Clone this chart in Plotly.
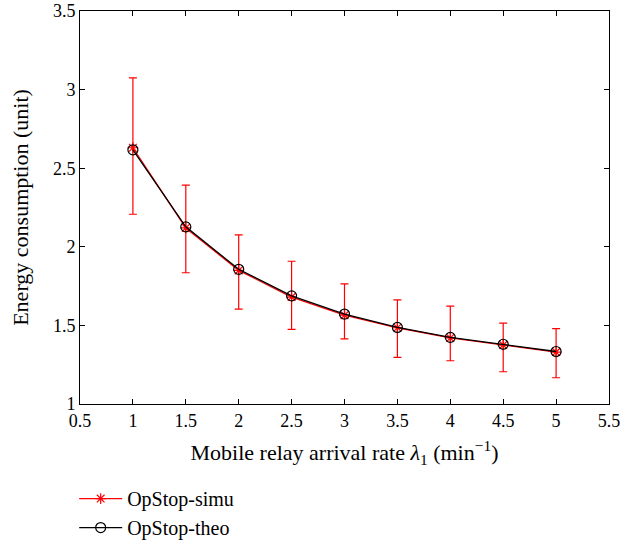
import plotly.graph_objects as go

rate = [1, 1.5, 2, 2.5, 3, 3.5, 4, 4.5, 5]
simu = [2.63, 2.12, 1.85, 1.68, 1.565, 1.485, 1.42, 1.375, 1.33]
simu_upper = [3.074, 2.392, 2.076, 1.908, 1.764, 1.663, 1.623, 1.515, 1.479]
simu_lower = [2.207, 1.835, 1.604, 1.475, 1.414, 1.297, 1.275, 1.205, 1.167]
theo = [2.617, 2.127, 1.857, 1.688, 1.572, 1.487, 1.424, 1.380, 1.334]

x_ticks = [0.5, 1, 1.5, 2, 2.5, 3, 3.5, 4, 4.5, 5, 5.5]
x_tick_labels = ["0.5", "1", "1.5", "2", "2.5", "3", "3.5", "4", "4.5", "5", "5.5"]
y_ticks = [1, 1.5, 2, 2.5, 3, 3.5]
y_tick_labels = ["1", "1.5", "2", "2.5", "3", "3.5"]

err_plus = [u - m for u, m in zip(simu_upper, simu)]
err_minus = [m - l for m, l in zip(simu, simu_lower)]

FONT = "Liberation Serif"

fig = go.Figure()
fig.add_trace(go.Scatter(
    x=rate, y=simu, name="OpStop-simu", mode="lines+markers",
    line=dict(color="#ff0000", width=1.3),
    marker=dict(symbol="asterisk-open", size=9, color="#ff0000",
                line=dict(color="#ff0000", width=1.2)),
    error_y=dict(type="data", symmetric=False, array=err_plus, arrayminus=err_minus,
                 color="#ff0000", thickness=1.2, width=4),
))
fig.add_trace(go.Scatter(
    x=rate, y=theo, name="OpStop-theo", mode="lines+markers",
    line=dict(color="#000000", width=1.3),
    marker=dict(symbol="circle-open", size=10, color="#000000",
                line=dict(color="#000000", width=1.2)),
))

axis_common = dict(
    showgrid=False, zeroline=False, showline=True, linecolor="#000000", linewidth=1,
    mirror="ticks", ticks="inside", ticklen=5, tickcolor="#000000",
    tickfont=dict(family=FONT, size=18, color="#000000"),
    automargin=False,
)

fig.update_layout(
    width=640, height=545,
    margin=dict(l=80, r=31, t=11, b=141),
    plot_bgcolor="white", paper_bgcolor="white",
    font=dict(family=FONT, size=18, color="#000000"),
    xaxis=dict(range=[0.5, 5.5], tickvals=x_ticks, ticktext=x_tick_labels,
               title=dict(text="Mobile relay arrival rate <i>λ</i><sub>1</sub> (min<sup>−1</sup>)",
                          font=dict(family=FONT, size=22), standoff=15),
               **axis_common),
    yaxis=dict(range=[1, 3.5], tickvals=y_ticks, ticktext=y_tick_labels,
               title=dict(text="Energy consumption (unit)",
                          font=dict(family=FONT, size=22), standoff=18),
               **axis_common),
    showlegend=True,
    legend=dict(x=-0.011, y=0.121, xref="paper", yref="container",
                xanchor="left", yanchor="top",
                font=dict(family=FONT, size=20), bgcolor="rgba(0,0,0,0)",
                tracegroupgap=0, itemwidth=43),
)

fig.write_html("out.html", config={"displayModeBar": False},
               post_script="document.body.style.margin='0';document.body.style.padding='0';")
